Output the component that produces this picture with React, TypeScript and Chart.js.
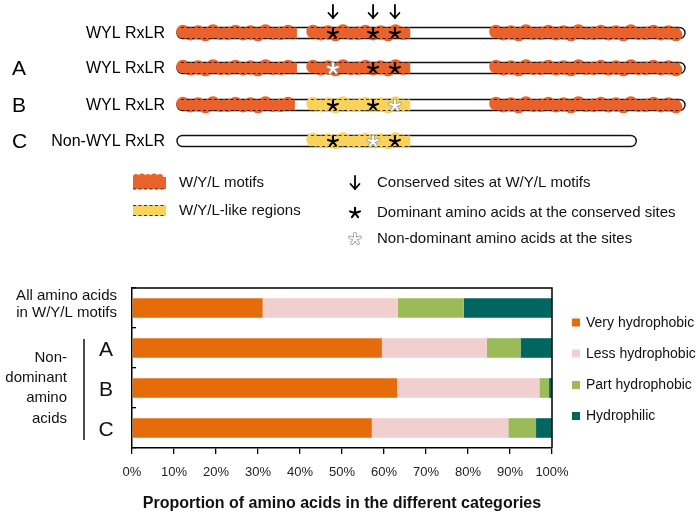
import React, { useEffect, useRef } from "react";
import { Chart, registerables } from "chart.js";

Chart.register(...registerables);

// ---------- bar chart data ----------
const categories = ["All amino acids in W/Y/L motifs", "A", "B", "C"];
const seriesNames = ["Very hydrophobic", "Less hydrophobic", "Part hydrophobic", "Hydrophilic"];
const veryHydrophobic = [31.1, 59.5, 63.1, 57.1];
const lessHydrophobic = [32.2, 25.0, 33.9, 32.5];
const partHydrophobic = [15.7, 8.0, 2.3, 6.6];
const hydrophilic = [21.0, 7.5, 0.7, 3.8];
const seriesColors = ["#E46C0A", "#F1CFCF", "#9BBB59", "#00665F"];
const xTickLabels = ["0%", "10%", "20%", "30%", "40%", "50%", "60%", "70%", "80%", "90%", "100%"];
const xTitle = "Proportion of amino acids in the different categories";
const firstCategoryLines = ["All amino acids", "in W/Y/L motifs"];
const groupLabelLines = ["Non-", "dominant", "amino", "acids"];

// ---------- schematic data (positions in % of protein length) ----------
const schematicGroups = ["", "A", "B", "C"];
const schematicLabels = ["WYL RxLR", "WYL RxLR", "WYL RxLR", "Non-WYL RxLR"];
const proteinLengths = [100, 100, 100, 90.4];
const rowRegions: [number, number, string][][] = [
  [[0, 24.2, "motif"], [25.6, 46.5, "motif"], [61.6, 99.6, "motif"]],
  [[0, 24.2, "motif"], [25.6, 46.5, "motif"], [61.6, 99.6, "motif"]],
  [[0, 23.8, "motif"], [25.6, 46.5, "like"], [61.6, 99.6, "motif"]],
  [[25.6, 46.5, "like"]],
];
const conservedSites = [30.7, 38.6, 42.9];
const siteDominance = [
  [true, true, true],
  [false, true, true],
  [true, true, false],
  [true, false, true],
];
const schematicLegendLeft = ["W/Y/L motifs", "W/Y/L-like regions"];
const schematicLegendRight = [
  "Conserved sites at W/Y/L motifs",
  "Dominant amino acids at the conserved sites",
  "Non-dominant amino acids at the sites",
];

const FONT = '"Liberation Sans", Arial, Helvetica, sans-serif';
const MOTIF_COLOR = "#E9622C";
const LIKE_COLOR = "#F9D25C";
const bumpR = [6.8, 6.2, 7.2, 6.5, 7.0, 6.0, 6.7];
const bumpDy = [-1.4, 1.4, -0.5, 1.8, -1.8, 0.9, 0.2];

function drawArrow(ctx: CanvasRenderingContext2D, x: number, yTop: number, yBot: number) {
  ctx.save();
  ctx.strokeStyle = "#000";
  ctx.lineWidth = 1.8;
  ctx.lineCap = "round";
  ctx.lineJoin = "round";
  ctx.beginPath();
  ctx.moveTo(x, yTop);
  ctx.lineTo(x, yBot);
  ctx.stroke();
  ctx.beginPath();
  ctx.moveTo(x - 4.5, yBot - 5);
  ctx.lineTo(x, yBot);
  ctx.lineTo(x + 4.5, yBot - 5);
  ctx.stroke();
  ctx.restore();
}

function drawStar(ctx: CanvasRenderingContext2D, x: number, y: number, dominant: boolean) {
  const r = 5.2;
  const path = () => {
    ctx.beginPath();
    for (let k = 0; k < 5; k++) {
      const a = -Math.PI / 2 + (k * 2 * Math.PI) / 5;
      ctx.moveTo(x, y);
      ctx.lineTo(x + r * Math.cos(a), y + r * Math.sin(a));
    }
  };
  ctx.save();
  ctx.lineCap = "round";
  if (dominant) {
    ctx.strokeStyle = "#000";
    ctx.lineWidth = 2.1;
    path();
    ctx.stroke();
  } else {
    ctx.strokeStyle = "#9a9a9a";
    ctx.lineWidth = 3.6;
    path();
    ctx.stroke();
    ctx.strokeStyle = "#fff";
    ctx.lineWidth = 1.9;
    path();
    ctx.stroke();
  }
  ctx.restore();
}

function drawBlob(ctx: CanvasRenderingContext2D, x0: number, x1: number, yc: number, color: string) {
  ctx.save();
  ctx.fillStyle = color;
  ctx.filter = "blur(0.6px)";
  ctx.beginPath();
  ctx.rect(x0 + 3, yc - 5.5, x1 - x0 - 6, 11);
  let i = 0;
  for (let x = x0 + 6; x <= x1 - 5; x += 7.5, i++) {
    const r = bumpR[i % bumpR.length];
    const dy = bumpDy[i % bumpDy.length];
    ctx.moveTo(x + r, yc + dy);
    ctx.arc(x, yc + dy, r, 0, Math.PI * 2);
  }
  ctx.fill();
  ctx.restore();
}

function dashedLine(ctx: CanvasRenderingContext2D, x0: number, x1: number, y: number) {
  ctx.save();
  ctx.strokeStyle = "rgba(0,0,0,0.75)";
  ctx.lineWidth = 1;
  ctx.setLineDash([3, 2.5]);
  ctx.beginPath();
  ctx.moveTo(x0, y);
  ctx.lineTo(x1, y);
  ctx.stroke();
  ctx.restore();
}

function drawSchematic(ctx: CanvasRenderingContext2D) {
  const px0 = 177;
  const pw = 508;
  const toX = (p: number) => px0 + (p / 100) * pw;
  const rowY = [33, 68, 105, 141];
  const h = 11;

  ctx.save();
  ctx.fillStyle = "#000";
  ctx.textBaseline = "middle";
  for (let r = 0; r < rowY.length; r++) {
    const yc = rowY[r];
    ctx.fillStyle = "#000";
    ctx.font = `16px ${FONT}`;
    ctx.textAlign = "right";
    ctx.fillText(schematicLabels[r], 165, yc + 0.5);
    if (schematicGroups[r]) {
      ctx.font = `21px ${FONT}`;
      ctx.textAlign = "left";
      ctx.fillText(schematicGroups[r], 12, yc + 1);
    }
    // capsule
    const xEnd = toX(proteinLengths[r]);
    ctx.save();
    ctx.beginPath();
    ctx.roundRect(px0, yc - h / 2, xEnd - px0, h, h / 2);
    ctx.fillStyle = "#fff";
    ctx.fill();
    ctx.strokeStyle = "#111";
    ctx.lineWidth = 1.4;
    ctx.stroke();
    ctx.restore();
    for (const [a, b, kind] of rowRegions[r]) {
      const xa = toX(a);
      const xb = toX(b);
      drawBlob(ctx, xa, xb, yc, kind === "motif" ? MOTIF_COLOR : LIKE_COLOR);
      dashedLine(ctx, xa + 4, xb - 3, yc - h / 2);
      dashedLine(ctx, xa + 4, xb - 3, yc + h / 2);
    }
    conservedSites.forEach((s, k) => drawStar(ctx, toX(s), yc + 0.5, siteDominance[r][k]));
  }
  conservedSites.forEach((s) => drawArrow(ctx, toX(s), 5, 18));

  // legend of schematic
  ctx.save();
  ctx.fillStyle = MOTIF_COLOR;
  ctx.filter = "blur(0.4px)";
  ctx.beginPath();
  ctx.rect(133, 177, 33, 12);
  for (let x = 136, i = 0; x <= 164; x += 6, i++) {
    ctx.moveTo(x + 3, 177);
    ctx.arc(x, 177, 3 + (i % 2) * 0.6, 0, Math.PI * 2);
  }
  ctx.fill();
  ctx.restore();
  dashedLine(ctx, 133, 166, 189);
  ctx.save();
  ctx.fillStyle = LIKE_COLOR;
  ctx.fillRect(133, 205, 33, 11);
  ctx.restore();
  dashedLine(ctx, 133, 166, 205.5);
  dashedLine(ctx, 133, 166, 215.5);

  ctx.fillStyle = "#111";
  ctx.font = `15px ${FONT}`;
  ctx.textAlign = "left";
  ctx.textBaseline = "middle";
  ctx.fillText(schematicLegendLeft[0], 179, 183);
  ctx.fillText(schematicLegendLeft[1], 179, 211);
  drawArrow(ctx, 355, 176, 189);
  drawStar(ctx, 355, 213, true);
  drawStar(ctx, 355, 239, false);
  ctx.fillStyle = "#111";
  ctx.fillText(schematicLegendRight[0], 377, 183);
  ctx.fillText(schematicLegendRight[1], 377, 213);
  ctx.fillText(schematicLegendRight[2], 377, 239);
  ctx.restore();
}

const extrasPlugin = {
  id: "extras",
  afterDraw(chart: any) {
    const ctx: CanvasRenderingContext2D = chart.ctx;
    const area = chart.chartArea;
    const yScale = chart.scales.y;
    ctx.save();
    // frame (top & right)
    ctx.strokeStyle = "#000";
    ctx.lineWidth = 1.5;
    ctx.beginPath();
    ctx.moveTo(area.left, area.top);
    ctx.lineTo(area.right, area.top);
    ctx.lineTo(area.right, area.bottom);
    ctx.stroke();

    // category labels
    ctx.fillStyle = "#111";
    ctx.textBaseline = "middle";
    ctx.font = `15px ${FONT}`;
    ctx.textAlign = "right";
    const y0 = yScale.getPixelForValue(0);
    ctx.fillText(firstCategoryLines[0], 117, y0 - 12);
    ctx.fillText(firstCategoryLines[1], 117, y0 + 5);
    ctx.font = `21px ${FONT}`;
    ctx.textAlign = "center";
    for (let i = 1; i < categories.length; i++) {
      ctx.fillText(categories[i], 106, yScale.getPixelForValue(i) + 2);
    }
    const yMid = yScale.getPixelForValue(2);
    ctx.font = `15px ${FONT}`;
    ctx.textAlign = "right";
    const offs = [-30, -10, 10, 31];
    groupLabelLines.forEach((t, k) => ctx.fillText(t, 67, yMid + offs[k]));
    ctx.strokeStyle = "#111";
    ctx.lineWidth = 1.5;
    ctx.beginPath();
    ctx.moveTo(84, yScale.getPixelForValue(1) - 9);
    ctx.lineTo(84, yScale.getPixelForValue(3) + 12);
    ctx.stroke();

    // legend
    const legY = [322.5, 353.5, 385, 416];
    ctx.font = `14px ${FONT}`;
    ctx.textAlign = "left";
    chart.data.datasets.forEach((ds: any, k: number) => {
      ctx.fillStyle = ds.backgroundColor;
      ctx.fillRect(572, legY[k] - 4, 8, 8);
      ctx.fillStyle = "#111";
      ctx.fillText(ds.label, 586, legY[k] + 0.5);
    });
    ctx.restore();

    drawSchematic(ctx);
  },
};

export default function App() {
  const ref = useRef<HTMLCanvasElement>(null);
  useEffect(() => {
    const series = [veryHydrophobic, lessHydrophobic, partHydrophobic, hydrophilic];
    const chart = new Chart(ref.current as HTMLCanvasElement, {
      type: "bar",
      data: {
        labels: categories,
        datasets: series.map((d, i) => ({
          label: seriesNames[i],
          data: d,
          backgroundColor: seriesColors[i],
          borderWidth: 0,
          barPercentage: 0.49,
          categoryPercentage: 1,
        })),
      },
      options: {
        indexAxis: "y",
        animation: false,
        responsive: true,
        maintainAspectRatio: false,
        layout: { padding: { top: 288, left: 132, right: 148, bottom: 0 } },
        plugins: {
          legend: { display: false },
          tooltip: { enabled: false },
        },
        scales: {
          x: {
            type: "linear",
            stacked: true,
            min: 0,
            max: 100,
            ticks: {
              stepSize: 10,
              padding: 11,
              color: "#222",
              font: { family: FONT, size: 13 },
              callback: (_v: any, i: number) => xTickLabels[i],
            },
            grid: {
              drawOnChartArea: false,
              drawTicks: true,
              tickLength: 6,
              color: "#000",
              lineWidth: 1.3,
            },
            border: { color: "#000", width: 1.5 },
            title: {
              display: true,
              text: xTitle,
              color: "#111",
              font: { family: FONT, size: 16, weight: "bold" },
              padding: { top: 0, bottom: 1 },
            },
            afterFit: (s: any) => {
              s.height = 66;
            },
          },
          y: {
            type: "category",
            stacked: true,
            ticks: { display: false },
            grid: {
              drawOnChartArea: false,
              drawTicks: true,
              tickLength: -4,
              offset: true,
              color: "#000",
              lineWidth: 1.3,
            },
            border: { color: "#000", width: 1.5 },
            afterFit: (s: any) => {
              s.width = 0;
            },
          },
        },
      } as any,
      plugins: [extrasPlugin],
    });
    return () => chart.destroy();
  }, []);
  return (
    <div style={{ position: "absolute", left: 0, top: 0, width: 700, height: 514, background: "#fff" }}>
      <canvas ref={ref} style={{ display: "block" }} />
    </div>
  );
}
